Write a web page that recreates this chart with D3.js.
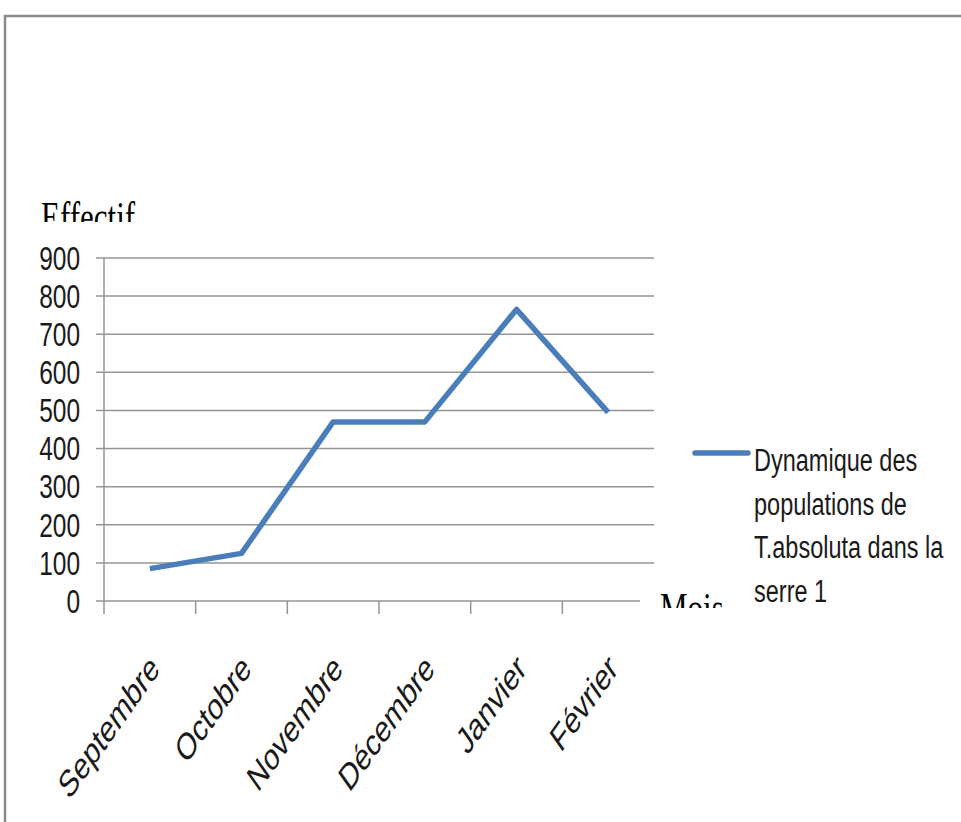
<!DOCTYPE html>
<html>
<head>
<meta charset="utf-8">
<script src="https://cdn.jsdelivr.net/npm/d3@7"></script>
<style>
  body { margin: 0; background: #fff; }
  svg { display: block; }
</style>
</head>
<body>
<svg id="chart" width="961" height="822"></svg>
<script>
// data
var months = ["Septembre", "Octobre", "Novembre", "Décembre", "Janvier", "Février"];
var effectif = [85, 125, 470, 470, 765, 495];
var yTicks = [0, 100, 200, 300, 400, 500, 600, 700, 800, 900];
var legendLines = ["Dynamique des", "populations de", "T.absoluta dans la", "serre 1"];

var STRETCH = 1.33; // text in the picture is tall and narrow
var svg = d3.select("#chart");

// text box frame
svg.append("rect")
  .attr("x", 5).attr("y", 16)
  .attr("width", 1000).attr("height", 900)
  .attr("fill", "none").attr("stroke", "#8a8a8a").attr("stroke-width", 2.5);

var plotL = 104, plotR = 654, plotT = 258, plotB = 601;

var x = d3.scaleBand().domain(months).range([plotL, plotR]);
var y = d3.scaleLinear().domain([0, 900]).range([plotB, plotT]);

// gridlines
svg.append("g").selectAll("line")
  .data(yTicks.filter(function(d) { return d > 0; }))
  .enter().append("line")
  .attr("x1", plotL - 8).attr("x2", plotR)
  .attr("y1", function(d) { return y(d); }).attr("y2", function(d) { return y(d); })
  .attr("stroke", "#959595").attr("stroke-width", 1.5);

// y axis
svg.append("line")
  .attr("x1", plotL).attr("x2", plotL).attr("y1", plotT).attr("y2", plotB)
  .attr("stroke", "#959595").attr("stroke-width", 1.5);
// x axis (with small tick at 0)
svg.append("line")
  .attr("x1", plotL - 8).attr("x2", 640).attr("y1", plotB).attr("y2", plotB)
  .attr("stroke", "#959595").attr("stroke-width", 1.5);

// category ticks on band edges
var edges = months.map(function(m) { return x(m); });
svg.append("g").selectAll("line")
  .data(edges)
  .enter().append("line")
  .attr("x1", function(d) { return d; }).attr("x2", function(d) { return d; })
  .attr("y1", plotB).attr("y2", plotB + 13)
  .attr("stroke", "#959595").attr("stroke-width", 1.5);

// y tick labels
svg.append("g").selectAll("text")
  .data(yTicks)
  .enter().append("text")
  .attr("transform", function(d) { return "translate(80," + y(d) + ") scale(1," + STRETCH + ")"; })
  .attr("dy", "0.36em")
  .attr("text-anchor", "end")
  .attr("font-family", "'Liberation Sans', Arial, sans-serif")
  .attr("font-size", 24.5)
  .attr("fill", "#1a1a1a")
  .text(function(d) { return d; });

// month labels, rotated
svg.append("g").selectAll("text")
  .data(months)
  .enter().append("text")
  .attr("transform", function(d) {
    return "translate(" + (x(d) + x.bandwidth() / 2 - 2) + "," + 652 + ") scale(1,1.42) rotate(-45)";
  })
  .attr("dy", "0.7em")
  .attr("text-anchor", "end")
  .attr("font-family", "'Liberation Sans', Arial, sans-serif")
  .attr("font-size", 26.5)
  .attr("fill", "#1a1a1a")
  .text(function(d) { return d; });

// the series
var line = d3.line()
  .x(function(d, i) { return x(months[i]) + x.bandwidth() / 2; })
  .y(function(d) { return y(d); });

svg.append("path")
  .datum(effectif)
  .attr("d", line)
  .attr("fill", "none")
  .attr("stroke", "#4a7ebb")
  .attr("stroke-width", 5.5)
  .attr("stroke-linejoin", "round");

// legend
svg.append("line")
  .attr("x1", 695).attr("x2", 748).attr("y1", 453).attr("y2", 453)
  .attr("stroke", "#4a7ebb").attr("stroke-width", 5.5).attr("stroke-linecap", "round");

svg.append("g").selectAll("text")
  .data(legendLines)
  .enter().append("text")
  .attr("transform", function(d, i) { return "translate(754," + (471 + i * 43.7) + ") scale(1," + STRETCH + ")"; })
  .attr("font-family", "'Liberation Sans', Arial, sans-serif")
  .attr("font-size", 23.5)
  .attr("fill", "#1a1a1a")
  .text(function(d) { return d; });

// axis titles (clipped like the original text boxes)
var defs = svg.append("defs");
defs.append("clipPath").attr("id", "clipEff")
  .append("rect").attr("x", 30).attr("y", 190).attr("width", 200).attr("height", 32);
defs.append("clipPath").attr("id", "clipMois")
  .append("rect").attr("x", 650).attr("y", 580).attr("width", 100).attr("height", 28);

svg.append("g").attr("clip-path", "url(#clipEff)")
  .append("text")
  .attr("transform", "translate(41,231) scale(1," + STRETCH + ")")
  .attr("font-family", "'Liberation Serif', 'Times New Roman', serif")
  .attr("font-size", 31)
  .attr("fill", "#000")
  .text("Effectif");

svg.append("g").attr("clip-path", "url(#clipMois)")
  .append("text")
  .attr("transform", "translate(660,622) scale(1," + STRETCH + ")")
  .attr("font-family", "'Liberation Serif', 'Times New Roman', serif")
  .attr("font-size", 31)
  .attr("fill", "#000")
  .text("Mois");
</script>
</body>
</html>
